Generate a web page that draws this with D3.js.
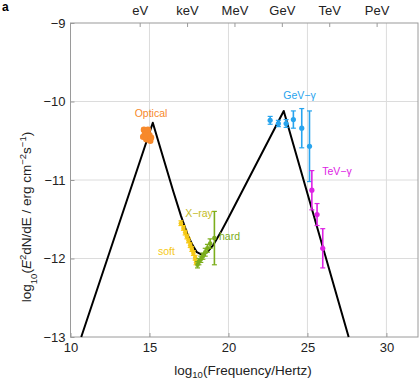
<!DOCTYPE html>
<html>
<head>
<meta charset="utf-8">
<script src="https://cdn.jsdelivr.net/npm/d3@7"></script>
<style>
  body { margin: 0; background: #fff; }
  svg { display: block; font-family: "Liberation Sans", Arial, sans-serif; }
</style>
</head>
<body>
<svg id="chart" width="419" height="382"></svg>
<script>

// axis setup
let xDomain = [10, 32];
let yDomain = [-13, -9];
let xTicks = [10, 15, 20, 25, 30];
let yTicks = [-13, -12, -11, -10, -9];
let xGrid = [15, 20, 25, 30];
let yGrid = [-12, -11, -10];
let energyLabels = ["eV", "keV", "MeV", "GeV", "TeV", "PeV"];
let energyLogHz = [14.38, 17.38, 20.38, 23.38, 26.38, 29.38];

// model curve
let modelLogNu =   [10.68, 15.21, 16.5, 17.0, 17.4, 17.7, 18.0, 18.3, 18.6, 19.0, 19.5, 20.0, 23.5, 27.61];
let modelLogFlux = [-13, -10.27, -11.14, -11.46, -11.69, -11.82, -11.92, -11.95, -11.93, -11.84, -11.67, -11.48, -10.12, -13];

// optical points
let opticalNu =   [14.6, 14.65, 14.7, 14.75, 14.8, 14.85, 14.9, 14.95, 15.0, 15.05, 15.1];
let opticalFlux = [-10.45, -10.36, -10.42, -10.38, -10.48, -10.40, -10.36, -10.47, -10.43, -10.50, -10.46];
let opticalErr =  [0.02, 0.02, 0.02, 0.02, 0.02, 0.02, 0.02, 0.02, 0.02, 0.02, 0.02];

// soft X-ray
let softNu =   [16.99, 17.15, 17.26, 17.37, 17.47, 17.58, 17.68, 17.78, 17.89, 17.95];
let softFlux = [-11.55, -11.61, -11.67, -11.72, -11.77, -11.83, -11.88, -11.93, -11.99, -12.05];
let softErr =  [0.03, 0.03, 0.03, 0.03, 0.03, 0.03, 0.03, 0.03, 0.03, 0.03];

// hard X-ray
let hardNu =   [18.04, 18.13, 18.25, 18.38, 18.53, 18.67, 18.84, 19.11];
let hardFlux = [-12.08, -12.04, -12.01, -11.97, -11.92, -11.87, -11.81, -11.74];
let hardErr =  [0.04, 0.04, 0.04, 0.04, 0.05, 0.05, 0.06, 0.34];

// GeV gamma
let gevNu =   [22.64, 23.16, 23.65, 24.11, 24.64, 25.13];
let gevFlux = [-10.24, -10.28, -10.28, -10.23, -10.34, -10.57];
let gevErr =  [0.05, 0.04, 0.05, 0.11, 0.25, 0.45];

// TeV gamma
let tevNu =   [25.28, 25.61, 25.97];
let tevFlux = [-11.13, -11.44, -11.87];
let tevErr =  [0.25, 0.14, 0.25];

let colors = {
    optical: "#f7892b",
    soft: "#f6c915",
    xray: "#c3bb26",
    hard: "#7cae1c",
    gev: "#27a4ee",
    tev: "#dd22e4"
};

let svg = d3.select("#chart");
let plotLeft = 70.5, plotRight = 418, plotTop = 23, plotBottom = 337;

let x = d3.scaleLinear().domain(xDomain).range([plotLeft, plotRight]);
let y = d3.scaleLinear().domain(yDomain).range([plotBottom, plotTop]);

// grid
svg.append("g").selectAll("line").data(xGrid).join("line")
    .attr("x1", d => x(d)).attr("x2", d => x(d))
    .attr("y1", plotTop).attr("y2", plotBottom)
    .attr("stroke", "#dcdcdc").attr("stroke-width", 1);
svg.append("g").selectAll("line").data(yGrid).join("line")
    .attr("x1", plotLeft).attr("x2", plotRight)
    .attr("y1", d => y(d)).attr("y2", d => y(d))
    .attr("stroke", "#dcdcdc").attr("stroke-width", 1);

// frame
svg.append("rect")
    .attr("x", plotLeft).attr("y", plotTop)
    .attr("width", plotRight - plotLeft).attr("height", plotBottom - plotTop)
    .attr("fill", "none").attr("stroke", "#9a9a9a").attr("stroke-width", 1);

// axes (ticks pointing inward)
let axisStyle = g => {
    g.select(".domain").remove();
    g.selectAll(".tick line").attr("stroke", "#9a9a9a");
    g.selectAll(".tick text").attr("fill", "#222").style("font-size", "13px");
};

svg.append("g")
    .attr("transform", `translate(0,${plotBottom})`)
    .call(d3.axisBottom(x).tickValues(xTicks).tickFormat(d3.format("d")).tickSizeInner(-4).tickPadding(6))
    .call(axisStyle);

svg.append("g")
    .attr("transform", `translate(${plotLeft},0)`)
    .call(d3.axisLeft(y).tickValues(yTicks).tickFormat(d => "\u2212" + Math.abs(d)).tickSizeInner(-4).tickPadding(5))
    .call(axisStyle);

svg.append("g")
    .attr("transform", `translate(0,${plotTop})`)
    .call(d3.axisTop(x).tickValues(energyLogHz).tickFormat((d, i) => energyLabels[i]).tickSizeInner(-4).tickPadding(8))
    .call(axisStyle);

// model curve
let modelPts = modelLogNu.map((v, i) => [v, modelLogFlux[i]]);
svg.append("path")
    .datum(modelPts)
    .attr("fill", "none")
    .attr("stroke", "#000")
    .attr("stroke-width", 2)
    .attr("stroke-linejoin", "round")
    .attr("d", d3.line().x(d => x(d[0])).y(d => y(d[1])));

// data series with error bars
let drawSeries = (nu, flux, err, color, r) => {
    let pts = nu.map((v, i) => ({ nu: v, f: flux[i], e: err[i] }));
    let g = svg.append("g").attr("stroke", color).attr("fill", color);
    g.selectAll("line.bar").data(pts).join("line")
        .attr("class", "bar")
        .attr("x1", d => x(d.nu)).attr("x2", d => x(d.nu))
        .attr("y1", d => y(d.f + d.e)).attr("y2", d => y(d.f - d.e))
        .attr("stroke-width", 1.6);
    g.selectAll("line.capT").data(pts).join("line")
        .attr("class", "capT")
        .attr("x1", d => x(d.nu) - 2.5).attr("x2", d => x(d.nu) + 2.5)
        .attr("y1", d => y(d.f + d.e)).attr("y2", d => y(d.f + d.e))
        .attr("stroke-width", 1.2);
    g.selectAll("line.capB").data(pts).join("line")
        .attr("class", "capB")
        .attr("x1", d => x(d.nu) - 2.5).attr("x2", d => x(d.nu) + 2.5)
        .attr("y1", d => y(d.f - d.e)).attr("y2", d => y(d.f - d.e))
        .attr("stroke-width", 1.2);
    g.selectAll("circle").data(pts).join("circle")
        .attr("cx", d => x(d.nu)).attr("cy", d => y(d.f))
        .attr("r", r).attr("stroke", "none");
};

drawSeries(opticalNu, opticalFlux, opticalErr, colors.optical, 3.2);
drawSeries(softNu, softFlux, softErr, colors.soft, 2.3);
drawSeries(hardNu, hardFlux, hardErr, colors.hard, 2.3);
drawSeries(gevNu, gevFlux, gevErr, colors.gev, 2.6);
drawSeries(tevNu, tevFlux, tevErr, colors.tev, 2.6);

// series labels
let labels = [
    { t: "Optical", x: 151, y: 117, c: colors.optical },
    { t: "X\u2212ray", x: 199, y: 217, c: colors.xray },
    { t: "soft", x: 166.5, y: 255, c: colors.soft },
    { t: "hard", x: 229.5, y: 240, c: colors.hard },
    { t: "GeV\u2212\u03b3", x: 299.5, y: 99, c: colors.gev },
    { t: "TeV\u2212\u03b3", x: 337, y: 175, c: colors.tev }
];
svg.append("g").selectAll("text").data(labels).join("text")
    .attr("x", d => d.x).attr("y", d => d.y)
    .attr("text-anchor", "middle")
    .attr("fill", d => d.c)
    .style("font-size", "10.5px")
    .text(d => d.t);

// axis titles
let xt = svg.append("text")
    .attr("x", 243).attr("y", 375)
    .attr("text-anchor", "middle")
    .attr("fill", "#222")
    .style("font-size", "13.5px");
xt.append("tspan").text("log");
xt.append("tspan").attr("dy", 3).style("font-size", "9.5px").text("10");
xt.append("tspan").attr("dy", -3).text("(Frequency/Hertz)");

let yt = svg.append("text")
    .attr("transform", "translate(31,217) rotate(-90)")
    .attr("text-anchor", "middle")
    .attr("fill", "#222")
    .style("font-size", "13.5px");
yt.append("tspan").text("log");
yt.append("tspan").attr("baseline-shift", "sub").style("font-size", "9.5px").text("10");
yt.append("tspan").text("(");
yt.append("tspan").style("font-style", "italic").text("E");
yt.append("tspan").attr("baseline-shift", "super").style("font-size", "9.5px").text("2");
yt.append("tspan").text("dN/dE / erg cm");
yt.append("tspan").attr("baseline-shift", "super").style("font-size", "9.5px").text("\u22122");
yt.append("tspan").text("s");
yt.append("tspan").attr("baseline-shift", "super").style("font-size", "9.5px").text("\u22121");
yt.append("tspan").text(")");

// panel letter
svg.append("text")
    .attr("x", 2).attr("y", 11)
    .attr("font-weight", "bold")
    .style("font-size", "12px")
    .text("a");

</script>
</body>
</html>
